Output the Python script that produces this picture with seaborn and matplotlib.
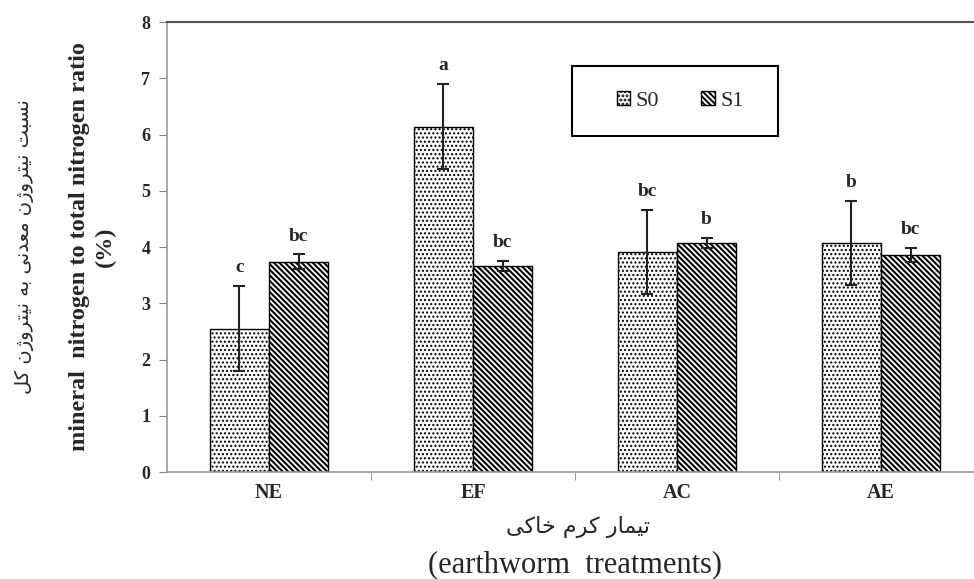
import numpy as np
import pandas as pd
import matplotlib
matplotlib.use('Agg')
import matplotlib.pyplot as plt
from matplotlib.patches import Patch, Rectangle
import seaborn as sns

# data
treatments = ['NE', 'EF', 'AC', 'AE']
groups = ['S0', 'S1']
s0_mean = [2.55, 6.14, 3.91, 4.07]
s0_err = [0.76, 0.76, 0.75, 0.75]
s1_mean = [3.74, 3.66, 4.07, 3.86]
s1_err = [0.13, 0.09, 0.09, 0.12]
s0_letters = ['c', 'a', 'bc', 'b']
s1_letters = ['bc', 'bc', 'b', 'bc']
y_ticks = [0, 1, 2, 3, 4, 5, 6, 7, 8]

ylabel_fa = 'نسبت نیتروژن معدنی به نیتروژن کل'
ylabel_en = 'mineral  nitrogen to total nitrogen ratio\n(%)'
xlabel_fa = 'تیمار کرم خاکی'
xlabel_en = '(earthworm  treatments)'

# matplotlib has no arabic shaping, so pick presentation forms by hand
# letter: (isolated, final, initial, medial)
forms = {
    'ا': ('\uFE8D', '\uFE8E', None, None),
    'ب': ('\uFE8F', '\uFE90', '\uFE91', '\uFE92'),
    'ت': ('\uFE95', '\uFE96', '\uFE97', '\uFE98'),
    'خ': ('\uFEA5', '\uFEA6', '\uFEA7', '\uFEA8'),
    'د': ('\uFEA9', '\uFEAA', None, None),
    'ر': ('\uFEAD', '\uFEAE', None, None),
    'ژ': ('\uFB8A', '\uFB8B', None, None),
    'س': ('\uFEB1', '\uFEB2', '\uFEB3', '\uFEB4'),
    'ع': ('\uFEC9', '\uFECA', '\uFECB', '\uFECC'),
    'ل': ('\uFEDD', '\uFEDE', '\uFEDF', '\uFEE0'),
    'م': ('\uFEE1', '\uFEE2', '\uFEE3', '\uFEE4'),
    'ن': ('\uFEE5', '\uFEE6', '\uFEE7', '\uFEE8'),
    'ه': ('\uFEE9', '\uFEEA', '\uFEEB', '\uFEEC'),
    'و': ('\uFEED', '\uFEEE', None, None),
    'ک': ('\uFB8E', '\uFB8F', '\uFB90', '\uFB91'),
    'ی': ('\uFBFC', '\uFBFD', '\uFBFE', '\uFBFF'),
}


def shape_fa(text):
    out = []
    for i, ch in enumerate(text):
        if ch not in forms:
            out.append(ch)
            continue
        prev = text[i - 1] if i > 0 else ' '
        nxt = text[i + 1] if i < len(text) - 1 else ' '
        join_prev = prev in forms and forms[prev][2] is not None
        join_next = nxt in forms and forms[ch][2] is not None
        iso, fin, ini, med = forms[ch]
        if join_prev and join_next:
            out.append(med)
        elif join_prev:
            out.append(fin)
        elif join_next:
            out.append(ini)
        else:
            out.append(iso)
    return ''.join(out)[::-1]


df = pd.DataFrame({
    'treatment': treatments * 2,
    'group': ['S0'] * 4 + ['S1'] * 4,
    'value': s0_mean + s1_mean,
})

sns.set_style('white')
plt.rcParams['font.family'] = ['Liberation Serif', 'DejaVu Sans']
plt.rcParams['hatch.linewidth'] = 1.4
plt.rcParams['hatch.color'] = 'black'

fig = plt.figure(figsize=(9.74, 5.79), dpi=100)
ax = fig.add_axes([0.1715, 0.1848, 0.8378, 0.7772])

sns.barplot(data=df, x='treatment', y='value', hue='group', order=treatments,
            hue_order=groups, palette=['white', 'white'], width=0.58,
            edgecolor='black', linewidth=1.0, errorbar=None, legend=False, ax=ax)

hatches = ['....', '\\' * 6]
hatch_lw = [1.0, 1.5]
errs = [s0_err, s1_err]
means = [s0_mean, s1_mean]
letters = [s0_letters, s1_letters]
bar_conts = list(ax.containers)
for k, cont in enumerate(bar_conts):
    xs = []
    for bar in cont:
        bar.set_hatch(hatches[k])
        if hasattr(bar, 'set_hatch_linewidth'):
            bar.set_hatch_linewidth(hatch_lw[k])
        bar.set_facecolor('white')
        bar.set_edgecolor('black')
        xs.append(bar.get_x() + bar.get_width() / 2)
    ax.errorbar(xs, means[k], yerr=errs[k], fmt='none', ecolor='#222222',
                elinewidth=1.5, capsize=4, capthick=1.5, zorder=5)
    for x, m, e, lab in zip(xs, means[k], errs[k], letters[k]):
        ax.annotate(lab, (x, m + e), xytext=(0, 7), textcoords='offset points',
                    ha='center', va='bottom', fontsize=14, fontweight='bold')

ax.set_ylim(0, 8)
ax.set_xlim(-0.5, 3.5)
ax.set_yticks(y_ticks)
ax.set_yticklabels([str(t) for t in y_ticks], fontsize=13, fontweight='bold')
ax.set_xticks(range(len(treatments)))
ax.set_xticklabels(treatments, fontsize=14.5, fontweight='bold')
ax.set_xticks([0.5, 1.5, 2.5], minor=True)
ax.tick_params(axis='x', which='major', length=0, pad=8)
ax.tick_params(axis='x', which='minor', length=6, color='#888888', direction='out', bottom=True)
ax.tick_params(axis='y', length=6, color='#888888', direction='out', left=True, pad=6)

ax.spines['right'].set_visible(False)
ax.spines['left'].set_color('#999999')
ax.spines['bottom'].set_color('#999999')
ax.spines['top'].set_color('#555555')
ax.spines['top'].set_linewidth(1.5)
for s in ['left', 'bottom']:
    ax.spines[s].set_linewidth(1.2)

ax.set_xlabel('')
ax.set_ylabel(ylabel_en, fontsize=17.5, fontweight='bold', linespacing=1.3)
ax.yaxis.set_label_coords(-0.063, 0.5)
ax.text(-0.175, 0.5, shape_fa(ylabel_fa), transform=ax.transAxes, rotation=90,
        ha='center', va='center', fontsize=14, family='DejaVu Sans')

fig.text(0.593, 0.09, shape_fa(xlabel_fa), ha='center', va='center', fontsize=16,
         family='DejaVu Sans')
fig.text(0.59, 0.024, xlabel_en, ha='center', va='center', fontsize=22)

# legend box drawn as its own frame, entries placed inside
ax.add_patch(Rectangle((0.496, 0.747), 0.253, 0.155, transform=ax.transAxes,
                       facecolor='white', edgecolor='black', linewidth=1.5, zorder=6))
handles = []
for h, lw in zip(hatches, hatch_lw):
    p = Patch(facecolor='white', edgecolor='black', hatch=h)
    if hasattr(p, 'set_hatch_linewidth'):
        p.set_hatch_linewidth(lw)
    handles.append(p)
leg = ax.legend(handles, groups, ncol=2, loc='center',
                bbox_to_anchor=(0.6287, 0.824), fontsize=16, frameon=False,
                handlelength=0.6, handleheight=0.6, handletextpad=0.25,
                columnspacing=1.9)
leg.set_zorder(7)

fig.savefig('out.png', dpi=100)
